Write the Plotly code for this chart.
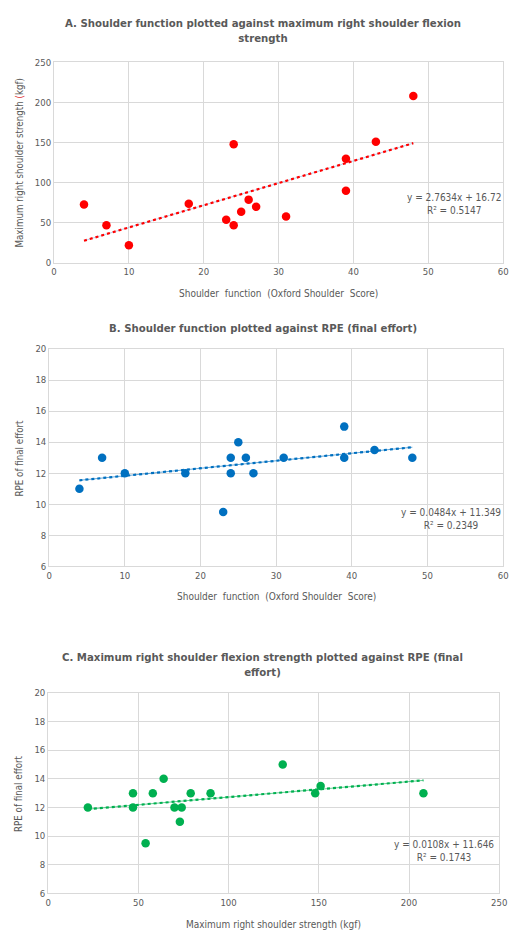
import plotly.graph_objects as go

# ---- data ----
oss = [4, 7, 10, 18, 23, 24, 24, 25, 26, 27, 31, 39, 39, 43, 48]
strength = [73, 47, 22, 74, 54, 148, 47, 64, 79, 70, 58, 130, 90, 151, 208]
rpe = [11, 13, 12, 12, 9.5, 13, 12, 14, 13, 12, 13, 15, 13, 13.5, 13]

fitA = (2.7634, 16.72, 0.5147)
fitB = (0.0484, 11.349, 0.2349)
fitC = (0.0108, 11.646, 0.1743)

titleA = "A. Shoulder function plotted against maximum right shoulder flexion<br>strength"
titleB = "B. Shoulder function plotted against RPE (final effort)"
titleC = "C. Maximum right shoulder flexion strength plotted against RPE (final<br>effort)"
xlabA = "Shoulder  function  (Oxford Shoulder  Score)"
ylabA = "Maximum right shoulder strength <span style='color:#e03030'>(</span>kgf)"
xlabB = "Shoulder  function  (Oxford Shoulder  Score)"
ylabB = "RPE of final effort"
xlabC = "Maximum right shoulder strength (kgf)"
ylabC = "RPE of final effort"

OFF = 8
W, H = 509, 928
FONT = "Liberation Sans Narrow, DejaVu Sans Condensed, Arial Narrow, sans-serif"
GRAY = "#595959"
GRID = "#d9d9d9"

def px(x):
    return (x - OFF) / W

def py(y):
    return 1 - (y - OFF) / H

panels = [
    dict(x=oss, y=strength, fit=fitA, color="#ff0000", under="#8fb4e3",
         xd=(52, 511), yd=(260, 57), xr=(0, 60), xt=10, yr=(0, 250), yt=50,
         title=titleA, ty=25, xlab=xlabA, xly=291, ylab=ylabA, ylx=17,
         eq=(461, 200)),
    dict(x=oss, y=rpe, fit=fitB, color="#0070c0", under="#0070c0",
         xd=(47, 511), yd=(567, 347), xr=(0, 60), xt=10, yr=(6, 20), yt=2,
         title=titleB, ty=326, xlab=xlabB, xly=597, ylab=ylabB, ylx=17,
         eq=(458, 519)),
    dict(x=strength, y=rpe, fit=fitC, color="#00b050", under="#00b050",
         xd=(46, 507), yd=(898, 695), xr=(0, 250), xt=50, yr=(6, 20), yt=2,
         title=titleC, ty=667, xlab=xlabC, xly=929, ylab=ylabC, ylx=15,
         eq=(451, 855)),
]

fig = go.Figure()
annotations = []
layout = {}
for i, p in enumerate(panels, start=1):
    xa = "x" if i == 1 else f"x{i}"
    ya = "y" if i == 1 else f"y{i}"
    xkey = "xaxis" if i == 1 else f"xaxis{i}"
    ykey = "yaxis" if i == 1 else f"yaxis{i}"
    slope, icpt, r2 = p["fit"]
    x0, x1 = min(p["x"]), max(p["x"])
    fx = [x0, x1]
    fy = [slope * v + icpt for v in fx]
    fig.add_trace(go.Scatter(x=fx, y=fy, mode="lines", xaxis=xa, yaxis=ya,
                             line=dict(color=p["under"], width=1),
                             opacity=0.6, showlegend=False, hoverinfo="skip"))
    fig.add_trace(go.Scatter(x=fx, y=fy, mode="lines", xaxis=xa, yaxis=ya,
                             line=dict(color=p["color"], width=2.2, dash="dot"),
                             showlegend=False, hoverinfo="skip"))
    fig.add_trace(go.Scatter(x=p["x"], y=p["y"], mode="markers", xaxis=xa, yaxis=ya,
                             marker=dict(color=p["color"], size=8.5),
                             showlegend=False))
    layout[xkey] = dict(domain=[px(p["xd"][0]), px(p["xd"][1])], range=list(p["xr"]),
                        dtick=p["xt"], tick0=0, anchor=ya, showgrid=True,
                        gridcolor=GRID, gridwidth=1, zeroline=False,
                        showline=True, linecolor=GRID, linewidth=1, mirror=True,
                        ticks="", tickfont=dict(size=9.5, color=GRAY, family=FONT),
                        fixedrange=True)
    layout[ykey] = dict(domain=[py(p["yd"][0]), py(p["yd"][1])], range=list(p["yr"]),
                        dtick=p["yt"], tick0=0, anchor=xa, showgrid=True,
                        gridcolor=GRID, gridwidth=1, zeroline=False,
                        showline=True, linecolor=GRID, linewidth=1, mirror=True,
                        ticks="", ticklen=0, tickfont=dict(size=9.5, color=GRAY, family=FONT),
                        fixedrange=True)
    annotations.append(dict(text=f"<b>{p['title']}</b>", xref="paper", yref="paper",
                            x=px(W / 2 + OFF + 3), y=py(p["ty"]), xanchor="center", yanchor="middle",
                            showarrow=False, align="center",
                            font=dict(size=11.3, color=GRAY, family=FONT)))
    annotations.append(dict(text=p["xlab"], xref="paper", yref="paper",
                            x=px((p["xd"][0] + p["xd"][1]) / 2), y=py(p["xly"]),
                            xanchor="center", yanchor="middle", showarrow=False,
                            font=dict(size=10, color=GRAY, family=FONT)))
    annotations.append(dict(text=p["ylab"], xref="paper", yref="paper",
                            x=px(p["ylx"]), y=py((p["yd"][0] + p["yd"][1]) / 2),
                            xanchor="center", yanchor="middle", showarrow=False,
                            textangle=-90,
                            font=dict(size=9.7, color=GRAY, family=FONT)))
    eq = f"y = {slope}x + {icpt}<br>R² = {r2}"
    annotations.append(dict(text=eq, xref="paper", yref="paper",
                            x=px(p["eq"][0]), y=py(p["eq"][1]),
                            xanchor="center", yanchor="middle", showarrow=False,
                            align="center",
                            font=dict(size=10, color=GRAY, family=FONT)))

fig.update_layout(width=W, height=H, margin=dict(l=0, r=0, t=0, b=0),
                  paper_bgcolor="white", plot_bgcolor="white",
                  annotations=annotations, **layout)
fig.write_html("out.html")
